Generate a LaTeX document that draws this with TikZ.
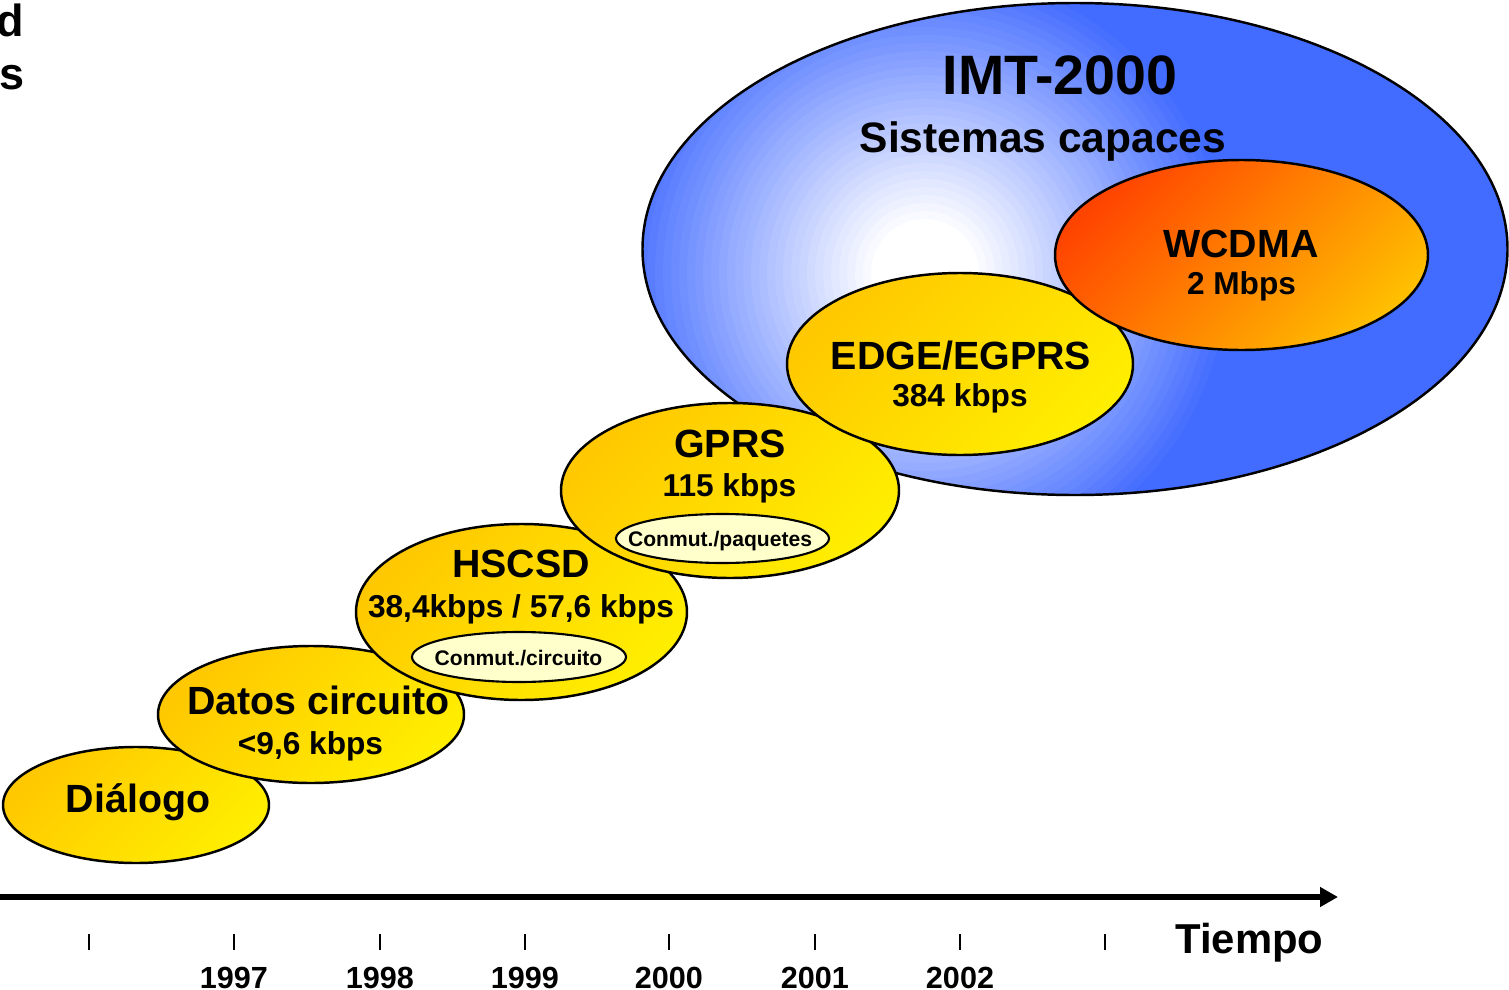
\documentclass[tikz,border=0pt]{standalone}
\usepackage{fontspec}
\setmainfont{Liberation Sans}
\usetikzlibrary{shapes.geometric,arrows.meta}

\definecolor{oro}{RGB}{255,200,0}
\definecolor{amarillo}{RGB}{255,238,0}
\definecolor{rojizo}{RGB}{255,68,0}
\definecolor{naranja}{RGB}{255,190,0}
\definecolor{azulimt}{RGB}{66,107,255}
\definecolor{crema}{RGB}{255,255,204}

\newcommand{\tam}[1]{\bfseries\fontsize{#1}{#1}\selectfont}

\tikzset{
  elipse/.style={ellipse, draw, line width=0.7pt, inner sep=0pt},
  etapa/.style={elipse, top color=oro, bottom color=amarillo, shading angle=45},
  conmut/.style={elipse, fill=crema, line width=0.6pt},
  texto/.style={anchor=base, inner sep=0pt},
  titulo/.style={texto, font=\tam{11.2}},
  tasa/.style={texto, font=\tam{9}},
  chico/.style={texto, font=\tam{6}},
  anio/.style={texto, font=\tam{8.7}},
}

\begin{document}
\begin{tikzpicture}
  \useasboundingbox (0,0) rectangle (15.09,-9.90);

  % Texto cortado a la izquierda
  \node[texto, anchor=base west, font=\tam{12.8}] (corte-d) at (-0.04,-0.37) {d};
  \node[texto, anchor=base west, font=\tam{12.8}] (corte-s) at (-0.01,-0.89) {s};

  % Sistemas IMT-2000 (brillo blanco hacia el centro)
  \node[elipse, fill=azulimt, minimum width=8.65cm, minimum height=4.92cm,
        path picture={
          \foreach \i in {0,...,32}{
            \pgfmathsetmacro{\r}{3.1-0.08*\i}
            \pgfmathsetmacro{\p}{max(0,100*(\r-0.54)/2.56)}
            \fill[azulimt!\p!white] ([xshift=-1.50cm,yshift=-0.24cm]path picture bounding box.center) circle (\r);
          }}]
        (imt) at (10.75,-2.49) {};

  % Etapas
  \node[etapa, minimum width=2.66cm, minimum height=1.16cm] (dialogo) at (1.36,-8.05) {};
  \node[etapa, minimum width=3.06cm, minimum height=1.37cm] (datos) at (3.11,-7.145) {};
  \node[etapa, minimum width=3.31cm, minimum height=1.76cm] (hscsd) at (5.215,-6.12) {};
  \node[conmut, minimum width=2.14cm, minimum height=0.50cm] (circ) at (5.19,-6.57) {};
  \node[etapa, minimum width=3.38cm, minimum height=1.75cm] (gprs) at (7.30,-4.905) {};
  \node[conmut, minimum width=2.13cm, minimum height=0.49cm] (paq) at (7.225,-5.385) {};
  \node[etapa, minimum width=3.46cm, minimum height=1.82cm] (edge) at (9.60,-3.64) {};
  \node[elipse, top color=rojizo, bottom color=naranja, shading angle=45,
        minimum width=3.73cm, minimum height=1.90cm] (wcdma) at (12.415,-2.55) {};

  % Textos
  \node[texto, font=\tam{15.8}] (imt-t) at (10.60,-0.95) {IMT-2000};
  \node[texto, font=\tam{12.1}] (imt-s) at (10.43,-1.52) {Sistemas capaces};
  \node[titulo] (wcdma-t) at (12.41,-2.57) {WCDMA};
  \node[tasa] (wcdma-r) at (12.415,-2.94) {2 Mbps};
  \node[titulo] (edge-t) at (9.61,-3.69) {EDGE/EGPRS};
  \node[tasa] (edge-r) at (9.60,-4.06) {384 kbps};
  \node[titulo] (gprs-t) at (7.30,-4.57) {GPRS};
  \node[tasa] (gprs-r) at (7.295,-4.96) {115 kbps};
  \node[chico] (paq-t) at (7.20,-5.46) {Conmut./paquetes};
  \node[titulo] (hscsd-t) at (5.21,-5.77) {HSCSD};
  \node[tasa] (hscsd-r) at (5.21,-6.17) {38,4kbps / 57,6 kbps};
  \node[chico] (circ-t) at (5.185,-6.65) {Conmut./circuito};
  \node[titulo] (datos-t) at (3.185,-7.14) {Datos circuito};
  \node[tasa] (datos-r) at (3.105,-7.54) {<9,6 kbps};
  \node[titulo] (dialogo-t) at (1.38,-8.12) {Diálogo};

  % Eje del tiempo
  \coordinate (t0) at (0,-8.97);
  \coordinate (t1) at (13.38,-8.97);
  \draw[line width=1.7pt, -{Triangle[length=0.18cm,width=0.19cm]}] (t0) -- (t1);
  \foreach \x in {0.89,2.34,3.80,5.25,6.69,8.15,9.60,11.05}
    \draw[line width=0.57pt] (\x,-9.34) -- (\x,-9.50);
  \foreach \x/\a in {2.34/1997,3.80/1998,5.25/1999,6.69/2000,8.15/2001,9.60/2002}
    \node[anio] (a\a) at (\x,-9.88) {\a};
  \node[texto, font=\tam{11.9}] (tiempo) at (12.495,-9.53) {Tiempo};
\end{tikzpicture}
\end{document}
